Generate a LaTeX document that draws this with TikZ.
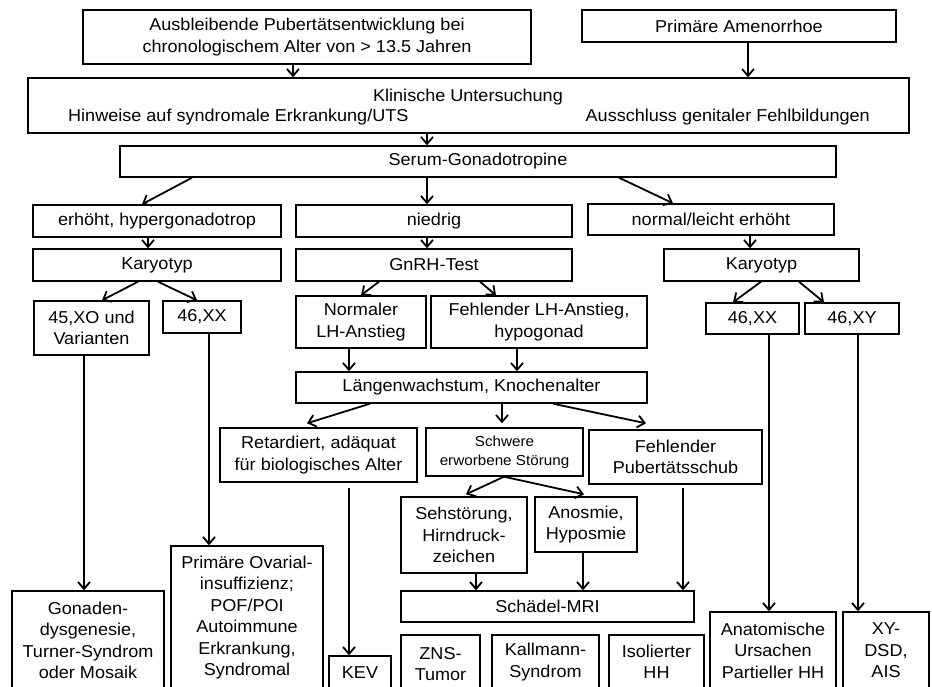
\documentclass[tikz,border=0pt]{standalone}
\usepackage{fontspec}
\setmainfont{Liberation Sans}[FakeStretch=1.05]
\usepackage{tikz}
\usetikzlibrary{arrows.meta, positioning}

\begin{document}
\begin{tikzpicture}[
    x=1pt, y=-1pt,
    box/.style={rectangle, draw=black, line width=1.4pt, inner sep=0pt, align=center, font=\fontsize{17.2}{21.5}\selectfont},
    label/.style={inner sep=0pt, font=\fontsize{17.2}{21.5}\selectfont},
    arr/.style={line width=1.8pt, -{Straight Barb[length=7pt, width=12pt]}}
]
    \useasboundingbox (0,0) rectangle (932,686);
    \clip (0,0) rectangle (932,686);

    % Top boxes
    \node (aus) [box, minimum width=448, minimum height=54] at (307,37) {Ausbleibende Pubertätsentwicklung bei\\chronologischem Alter von > 13.5 Jahren};
    \node (amen) [box, minimum width=314, minimum height=32] at (739,26) {Primäre Amenorrhoe};

    % Clinical examination
    \node (klin) [box, minimum width=881, minimum height=55] at (468.5,105.5) {};
    \node (klinT) [label] at (468,97) {Klinische Untersuchung};
    \node (hinw) [label, anchor=west] at (68,117) {Hinweise auf syndromale Erkrankung/UTS};
    \node (aussch) [label, anchor=east] at (870,117) {Ausschluss genitaler Fehlbildungen};

    \node (serum) [box, minimum width=716, minimum height=31] at (478,161.5) {Serum-Gonadotropine};

    % Second level
    \node (erhoeht) [box, minimum width=248, minimum height=32] at (157,221) {erhöht, hypergonadotrop};
    \node (niedrig) [box, minimum width=276, minimum height=32] at (434,221) {niedrig};
    \node (normal) [box, minimum width=246, minimum height=31] at (711,219.5) {normal/leicht erhöht};

    \node (karyoL) [box, minimum width=248, minimum height=32] at (157,265) {Karyotyp};
    \node (gnrh) [box, minimum width=276, minimum height=32] at (434,265) {GnRH-Test};
    \node (karyoR) [box, minimum width=195, minimum height=32] at (761.5,265) {Karyotyp};

    \node (xo) [box, minimum width=115, minimum height=54] at (91.5,328) {45,XO und\\Varianten};
    \node (xxL) [box, minimum width=78, minimum height=32] at (202,317) {46,XX};
    \node (normLH) [box, minimum width=130, minimum height=52] at (361,322) {Normaler\\LH-Anstieg};
    \node (fehlLH) [box, minimum width=216, minimum height=52] at (539,322) {Fehlender LH-Anstieg,\\hypogonad};
    \node (xxR) [box, minimum width=93, minimum height=31] at (752.5,318.5) {46,XX};
    \node (xy) [box, minimum width=94, minimum height=31] at (852,318.5) {46,XY};

    \node (laeng) [box, minimum width=351, minimum height=31] at (471.5,387.5) {Längenwachstum, Knochenalter};

    \node (retard) [box, minimum width=197, minimum height=54] at (318.5,455) {Retardiert, adäquat\\für biologisches Alter};
    \node (schwer) [box, minimum width=157, minimum height=48, font=\fontsize{14.5}{18.5}\selectfont] at (504.5,452) {Schwere\\erworbene Störung};
    \node (fehlPub) [box, minimum width=173, minimum height=54] at (675.5,457) {Fehlender\\Pubertätsschub};

    \node (seh) [box, minimum width=126, minimum height=76] at (464,535) {Sehstörung,\\Hirndruck-\\zeichen};
    \node (anos) [box, minimum width=102, minimum height=55] at (586,524.5) {Anosmie,\\Hyposmie};
    \node (mri) [box, minimum width=293, minimum height=31] at (547.5,606.5) {Schädel-MRI};

    % Bottom row (cut off at the lower edge)
    \node (gonad) [box, minimum width=152, minimum height=99] at (88,640.5) {Gonaden-\\dysgenesie,\\Turner-Syndrom\\oder Mosaik};
    \node (pov) [box, minimum width=152, minimum height=143] at (247,617.5) {Primäre Ovarial-\\insuffizienz;\\POF/POI\\Autoimmune\\Erkrankung,\\Syndromal};
    \node (kev) [box, minimum width=62, minimum height=34] at (360,673) {KEV};
    \node (zns) [box, minimum width=79, minimum height=58] at (440.5,664) {ZNS-\\Tumor};
    \node (kall) [box, minimum width=107, minimum height=54] at (545.5,662) {Kallmann-\\Syndrom};
    \node (iso) [box, minimum width=95, minimum height=54] at (656.5,662) {Isolierter\\HH};
    \node (anat) [box, minimum width=126, minimum height=77] at (773,650.5) {Anatomische\\Ursachen\\Partieller HH};
    \node (xydsd) [box, minimum width=86, minimum height=77] at (886,650.5) {XY-\\DSD,\\AIS};

    % Connectors
    \draw [arr] ([xshift=-14]aus.south) -- ([xshift=-14]aus.south |- klin.north);
    \draw [arr] ([xshift=9]amen.south) -- ([xshift=9]amen.south |- klin.north);
    \draw [arr] ([xshift=-51]serum.north |- klin.south) -- ([xshift=-51]serum.north);

    \draw [arr] ([xshift=-286]serum.south) -- ([xshift=-15]erhoeht.north);
    \draw [arr] ([xshift=-51]serum.south) -- ([xshift=-7]niedrig.north);
    \draw [arr] ([xshift=141]serum.south) -- ([xshift=-38]normal.north);

    \draw [arr] ([xshift=-9]erhoeht.south) -- ([xshift=-9]karyoL.north);
    \draw [arr] ([xshift=-7]niedrig.south) -- ([xshift=-7]gnrh.north);
    \draw [arr] ([xshift=39]normal.south) -- ([xshift=-11.5]karyoR.north);

    \draw [arr] ([xshift=-19]karyoL.south) -- ([xshift=10.5]xo.north);
    \draw [arr] ([xshift=1]karyoL.south) -- ([xshift=-5]xxL.north);
    \draw [arr] ([xshift=-55]gnrh.south) -- (normLH.north);
    \draw [arr] ([xshift=46]gnrh.south) -- ([xshift=-43]fehlLH.north);
    \draw [arr] ([xshift=-0.5]karyoR.south) -- ([xshift=-19.5]xxR.north);
    \draw [arr] ([xshift=37.5]karyoR.south) -- ([xshift=-28]xy.north);

    \draw [arr] ([xshift=-12]normLH.south) -- ([xshift=-12]normLH.south |- laeng.north);
    \draw [arr] ([xshift=-22]fehlLH.south) -- ([xshift=-22]fehlLH.south |- laeng.north);

    \draw [arr] ([xshift=-101.5]laeng.south) -- ([xshift=-11.5, yshift=4]retard.north);
    \draw [arr] ([xshift=30.5]laeng.south) -- ([xshift=30.5, yshift=4]laeng.south |- schwer.north);
    \draw [arr] ([xshift=81.5]laeng.south) -- ([xshift=-29.5, yshift=6]fehlPub.north);

    \draw [arr] ([xshift=30.5, yshift=-5]retard.south) -- ([xshift=30.5]retard.south |- kev.north);
    \draw [arr] ([xshift=7]xxL.south) -- ([xshift=7]xxL.south |- pov.north);
    \draw [arr] ([xshift=-7.5]xo.south) -- ([xshift=-7.5]xo.south |- gonad.north);

    \draw [arr] ([xshift=-0.5]schwer.south) -- ([xshift=2, yshift=2]seh.north);
    \draw [arr] ([xshift=-0.5]schwer.south) -- ([xshift=-2, yshift=2]anos.north);

    \draw [arr] ([xshift=12]seh.south) -- ([xshift=12]seh.south |- mri.north);
    \draw [arr] ([xshift=-3]anos.south) -- ([xshift=-3]anos.south |- mri.north);
    \draw [arr] ([xshift=7.5, yshift=-3]fehlPub.south) -- ([xshift=7.5]fehlPub.south |- mri.north);

    \draw [arr] ([xshift=16.5]xxR.south) -- ([xshift=16.5]xxR.south |- anat.north);
    \draw [arr] ([xshift=6]xy.south) -- ([xshift=6]xy.south |- xydsd.north);

\end{tikzpicture}
\end{document}
